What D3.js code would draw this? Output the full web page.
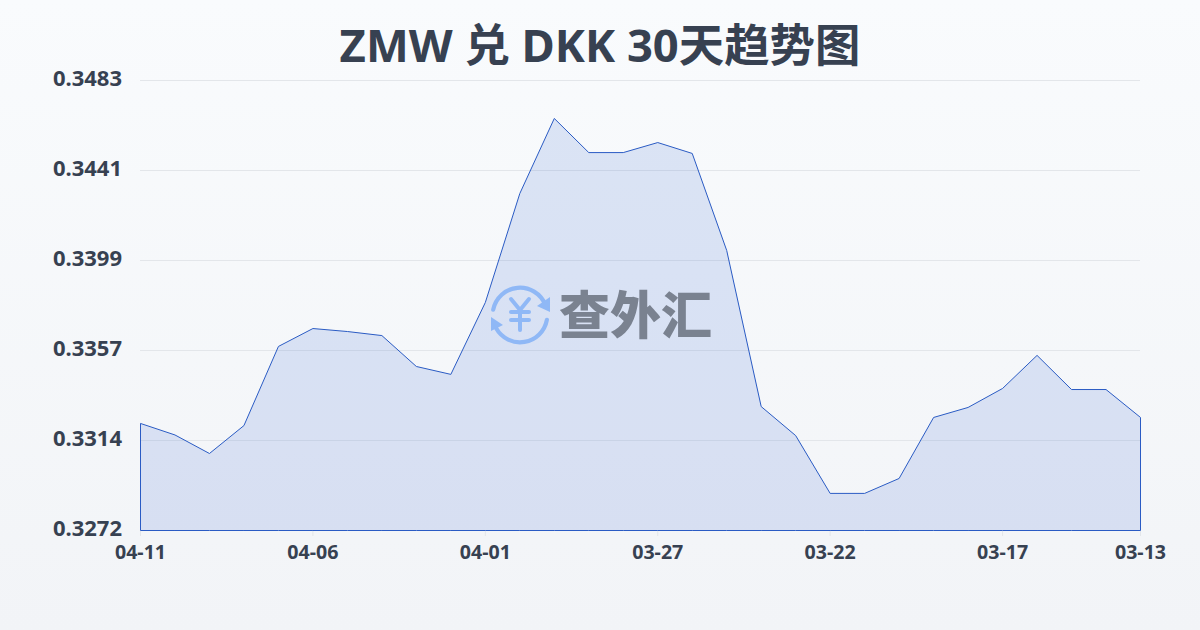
<!DOCTYPE html>
<html><head><meta charset="utf-8">
<script src="https://cdnjs.cloudflare.com/ajax/libs/d3/7.8.5/d3.min.js"></script>
<style>
html,body{margin:0;padding:0;width:1200px;height:630px;overflow:hidden;background:#f5f7fa}
svg{display:block}
text{font-family:"Noto Sans","Noto Sans CJK SC",sans-serif}
</style></head><body><svg id="c" width="1200" height="630"></svg>
<script>
const titleText = "ZMW 兑 DKK 30天趋势图";
const dates = ["04-11","04-10","04-09","04-08","04-07","04-06","04-05","04-04","04-03","04-02","04-01","03-31","03-30","03-29","03-28","03-27","03-26","03-25","03-24","03-23","03-22","03-21","03-20","03-19","03-18","03-17","03-16","03-15","03-14","03-13"];
const rates = [0.33222,0.33168,0.33081,0.33212,0.33583,0.33667,0.33653,0.33634,0.33489,0.33452,0.33789,0.34300,0.34652,0.34492,0.34492,0.34539,0.34488,0.34033,0.33301,0.33165,0.32894,0.32894,0.32964,0.33250,0.33297,0.33386,0.33541,0.33381,0.33381,0.33250];
const yTicks = [0.3272,0.3314,0.3357,0.3399,0.3441,0.3483];
const gridValues = [0.3272,0.33142,0.33564,0.33986,0.34408,0.3483];
const xTickDates = ["04-11","04-06","04-01","03-27","03-22","03-17","03-13"];

const svg = d3.select("#c");
const defs = svg.append("defs");
const bg = defs.append("linearGradient").attr("id","bg").attr("x1",0).attr("y1",0).attr("x2",0).attr("y2",1);
bg.append("stop").attr("offset","0%").attr("stop-color","#f9fbfd");
bg.append("stop").attr("offset","100%").attr("stop-color","#f2f4f7");
svg.append("rect").attr("width",1200).attr("height",630).attr("fill","url(#bg)");

const x = d3.scalePoint().domain(dates).range([140,1140]);
const y = d3.scaleLinear().domain([0.3272,0.3483]).range([530,80]);

svg.append("text").attr("x",600).attr("y",62).attr("text-anchor","middle")
  .attr("font-size",45.4).attr("font-weight",700).attr("fill","#374151").text(titleText);

const gridG = svg.append("g");
gridG.selectAll("line").data(gridValues).join("line")
  .attr("x1",140).attr("x2",1140)
  .attr("y1",d=>Math.round(y(d))+0.5).attr("y2",d=>Math.round(y(d))+0.5)
  .attr("stroke","#e3e6ea").attr("stroke-width",1);

const xAxis = d3.axisBottom(x).tickValues(xTickDates).tickSize(5).tickPadding(9);
const gx = svg.append("g").attr("transform","translate(0,531)").call(xAxis);
gx.select(".domain").remove();
gx.selectAll("line").attr("stroke","#e3e6ea");
gx.selectAll("text").attr("font-size",19.6).attr("font-weight",700).attr("fill","#374151")
  .attr("font-family",'"Noto Sans",sans-serif');

const area = d3.area().x(d=>x(d.date)).y0(y.range()[0]).y1(d=>y(d.rate));
const data = dates.map((date,i)=>({date,rate:rates[i]}));
svg.append("path").datum(data).attr("d",d=>area(d))
  .attr("transform","translate(0.5,0.5)")
  .attr("fill","#4d78d8").attr("fill-opacity",0.17)
  .attr("stroke","#2a5bc4").attr("stroke-width",1).attr("stroke-linejoin","round");

const yAxis = d3.axisLeft(y).tickSize(0).tickPadding(18).tickValues(gridValues)
  .tickFormat((d,i)=>d3.format(".4f")(yTicks[i]));
const gy = svg.append("g").attr("transform","translate(140,1)").call(yAxis);
gy.select(".domain").remove();
gy.selectAll("text").attr("font-size",22).attr("font-weight",700).attr("fill","#374151")
  .attr("font-family",'"Noto Sans",sans-serif').attr("dy","0.2em");

const wm = svg.append("g").attr("transform","translate(520,315)");
const ring = d3.arc().innerRadius(25.2).outerRadius(29.4).cornerRadius(2);
const blue = "#8fb8f6";
const deg = Math.PI/180;
wm.append("path").attr("d",ring({startAngle:-83*deg,endAngle:72*deg})).attr("fill",blue);
wm.append("path").attr("d",ring({startAngle:96*deg,endAngle:245*deg})).attr("fill",blue);
wm.append("path").attr("d","M30 -18 L30 -3 L17 -9 Z").attr("fill",blue);
wm.append("path").attr("d","M-29 2 L-29 16 L-17 10 Z").attr("fill",blue);
const yen = wm.append("g").attr("fill","none").attr("stroke",blue).attr("stroke-width",4).attr("stroke-linecap","round").attr("stroke-linejoin","round");
yen.append("path").attr("d","M-9 -16 L0 -5 L9 -16");
yen.append("path").attr("d","M0 -5 L0 15");
yen.append("path").attr("d","M-9 -3 L9 -3");
yen.append("path").attr("d","M-9 5 L9 5");
svg.append("text").attr("x",559).attr("y",334).attr("font-size",51).attr("font-weight",900)
  .attr("fill","#7a8290").attr("font-family",'"Noto Sans CJK SC",sans-serif').text("查外汇");
</script></body></html>
